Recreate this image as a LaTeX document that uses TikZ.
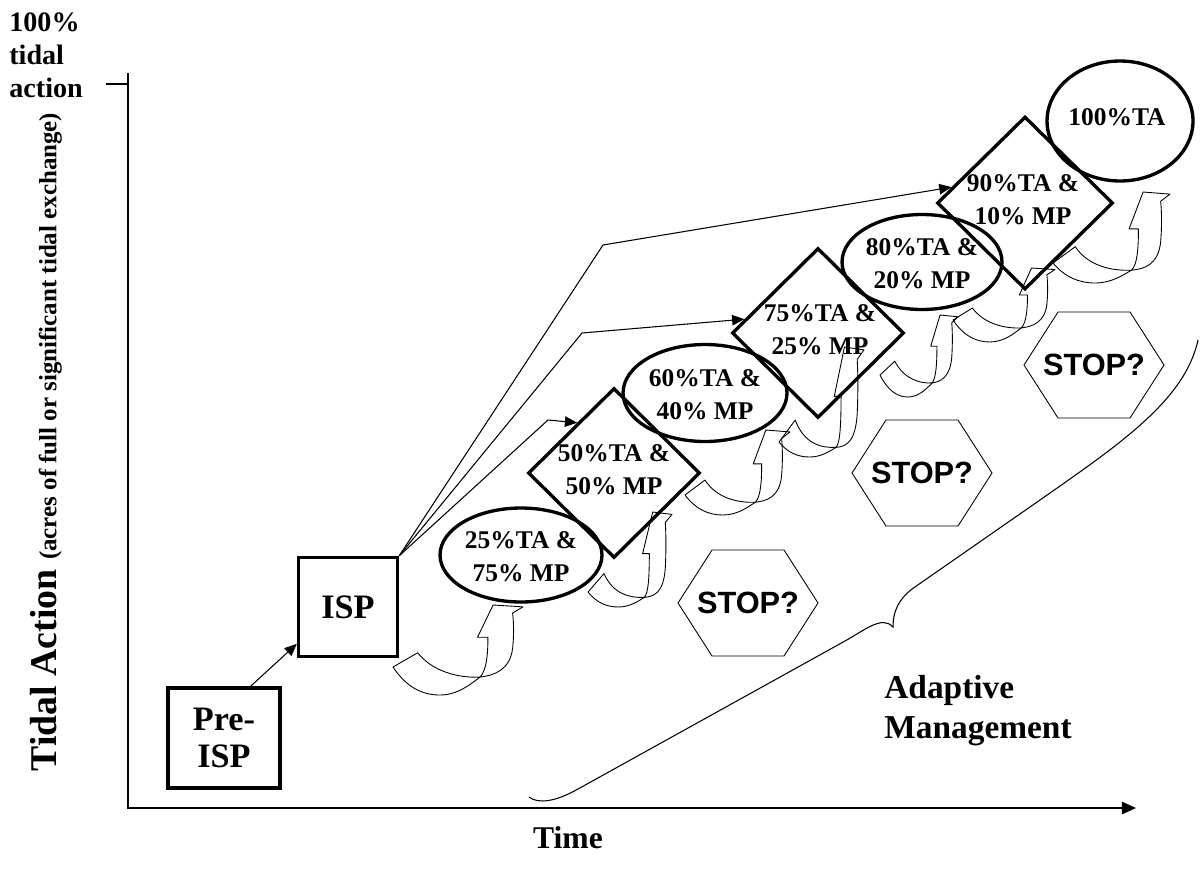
\documentclass[tikz,border=0pt]{standalone}
\usepackage{fontspec}
\setmainfont{Liberation Serif}
\newfontfamily\stopfont{Liberation Sans}
\usetikzlibrary{shapes.geometric,arrows.meta,calc}

% curved "U-turn" block arrow: #1,#2 left end of the band, #3 width, #4 rise to the tip, #5 drop of the bend, #6 name
\newcommand{\uturnarrow}[6]{%
  \coordinate (#6) at (#1,#2);
  \coordinate (#6j) at ({#1+0.67*#3},{#2+0.36*#5});
  \draw[uturn] (#6)
  .. controls ({#1+0.1*#3},{#2+0.7*#5}) and ({#1+0.22*#3},{#2+#5}) .. ({#1+0.36*#3},{#2+#5})
  .. controls ({#1+0.5*#3},{#2+#5}) and ({#1+0.6*#3},{#2+0.6*#5}) .. (#6j)
  .. controls ({#1+0.78*#3},{#2+0.3*#5}) and ({#1+0.9*#3},{#2+0.1*#5}) .. ({#1+0.92*#3},{#2-0.3*#4})
  .. controls ({#1+0.93*#3},{#2-0.5*#4}) and ({#1+0.93*#3},{#2-0.7*#4}) .. ({#1+0.92*#3},{#2-0.87*#4})
  -- ({#1+#3},{#2-0.97*#4}) -- ({#1+0.77*#3},{#2-#4}) -- ({#1+0.65*#3},{#2-0.48*#4}) -- ({#1+0.73*#3},{#2-0.48*#4})
  .. controls ({#1+0.73*#3},{#2-0.2*#4}) and ({#1+0.72*#3},{#2+0.1*#5}) .. (#6j)
  .. controls ({#1+0.5*#3},{#2+0.4*#5}) and ({#1+0.3*#3},{#2+0.15*#5}) .. ({#1+0.19*#3},{#2-0.23*#4})
  -- cycle;}

\begin{document}
\begin{tikzpicture}[x=0.02cm,y=-0.02cm,
  stagebox/.style={draw,line width=1.9pt,rectangle,inner sep=0pt},
  stageoval/.style={draw,line width=1.9pt,ellipse,inner sep=0pt},
  stagediam/.style={draw,line width=1.9pt,diamond,inner sep=0pt},
  lbl/.style={font=\fontsize{14.5}{18.8}\selectfont\bfseries,align=center,inner sep=0pt},
  biglbl/.style={font=\fontsize{19.5}{21}\selectfont\bfseries,align=center,inner sep=0pt},
  stoplbl/.style={font=\stopfont\fontsize{17.5}{17.5}\selectfont\bfseries,inner sep=0pt},
  link/.style={line width=0.6pt,-{Triangle[length=7pt,width=6pt]}},
  uturn/.style={line width=0.5pt,line join=round},
  hexa/.style={line width=0.5pt},
  axis/.style={line width=1.1pt},
  brace/.style={line width=0.6pt}]

\useasboundingbox (0,0) rectangle (1202,886);

% axes
\coordinate (ytop) at (128,73);
\coordinate (orig) at (128,808);
\coordinate (xend) at (1136,808);
\coordinate (tickl) at (106,84);
\coordinate (tickr) at (128,84);
\draw[axis,-{Triangle[length=8pt,width=7pt]}] (ytop) -- (orig) -- (xend);
\draw[axis] (tickl) -- (tickr);

\node[font=\fontsize{16}{19}\selectfont\bfseries,align=left,anchor=north west,inner sep=0pt] (full) at (9,12) {100\%\\tidal\\action};
\node[rotate=90,inner sep=0pt] (ylab) at (46,442)
  {\fontsize{21.5}{21.5}\selectfont\bfseries Tidal Action \fontsize{14.2}{14.2}\selectfont(acres of full or significant tidal exchange)};
\node[font=\fontsize{18}{18}\selectfont\bfseries,inner sep=0pt] (time) at (568,838) {Time};

% stages
\node[stagebox,minimum width=2.24cm,minimum height=2.0cm] (pre) at (224,738) {};
\node[biglbl] (pretxt) at (pre) {Pre-\\ISP};
\node[stagebox,minimum width=1.98cm,minimum height=1.98cm] (isp) at (348,607) {};
\node[biglbl] (isptxt) at (isp) {ISP};

\node[stagediam,minimum width=3.44cm,minimum height=3.40cm] (d50) at (614,473) {};
\node[stagediam,minimum width=3.44cm,minimum height=3.40cm] (d75) at (818,333) {};
\node[stagediam,minimum width=3.52cm,minimum height=3.46cm] (d90) at (1025,203) {};
\node[stageoval,minimum width=3.24cm,minimum height=1.88cm] (e25) at (521,555) {};
\node[stageoval,minimum width=3.28cm,minimum height=1.94cm] (e60) at (705,393) {};
\node[stageoval,minimum width=3.20cm,minimum height=1.90cm] (e80) at (922,262) {};
\node[stageoval,minimum width=2.92cm,minimum height=2.40cm] (e100) at (1120,121) {};

\node[lbl] (t25) at (521,557) {25\%TA \&\\75\% MP};
\node[lbl] (t50) at (614,470) {50\%TA \&\\50\% MP};
\node[lbl] (t60) at (705,395) {60\%TA \&\\40\% MP};
\node[lbl] (t75) at (820,330) {75\%TA \&\\25\% MP};
\node[lbl] (t80) at (922,264) {80\%TA \&\\20\% MP};
\node[lbl] (t90) at (1023,200) {90\%TA \&\\10\% MP};
\node[lbl] (t100) at (1117,117) {100\%TA};

% links
\draw[link] ($(pre.north)!0.46!(pre.north east)$) -- ($(isp.south west)!0.14!(isp.north west)$);
\coordinate (k1) at (548,420);
\coordinate (k2) at (582,333);
\coordinate (k3) at (603,245);
\draw[link] (isp.north east) -- (k1) -- ($(d50.west)!0.58!(d50.north)$);
\draw[link] (isp.north east) -- (k2) -- ($(d75.west)!0.16!(d75.north)$);
\draw[link] (isp.north east) -- (k3) -- ($(d90.west)!0.18!(d90.north)$);

% curved step arrows
\uturnarrow{393}{667}{130}{62}{28}{u1}
\uturnarrow{588}{592}{84}{80}{15}{u2}
\uturnarrow{685}{495}{105}{65}{20}{u3}
\uturnarrow{779}{442}{85}{95}{15}{u4}
\uturnarrow{880}{375}{78}{60}{22}{u5}
\uturnarrow{953}{320}{102}{52}{22}{u6}
\uturnarrow{1053}{263}{117}{71}{20}{u7}

% stop hexagons
\foreach \nm/\cx/\cy in {h1/748/603, h2/922/473, h3/1094/365}{
  \node[stoplbl] (\nm) at (\cx,\cy) {STOP?};
  \draw[hexa,shift={(\nm)}] (-70,0) -- (-36,-53) -- (36,-53) -- (70,0) -- (36,53) -- (-36,53) -- cycle;
}

% adaptive management brace
\draw[brace] (529,797) .. controls (538,804) and (555,802) .. (578,789)
  -- (845,641)
  .. controls (865,630) and (882,615) .. (893,627)
  .. controls (893,612) and (898,600) .. (912,589)
  -- (1040,500)
  .. controls (1120,444) and (1185,400) .. (1198,340);
\node[font=\fontsize{19}{23}\selectfont\bfseries,align=left,anchor=north west,inner sep=0pt] (adapt) at (884,675) {Adaptive\\Management};

\end{tikzpicture}
\end{document}
